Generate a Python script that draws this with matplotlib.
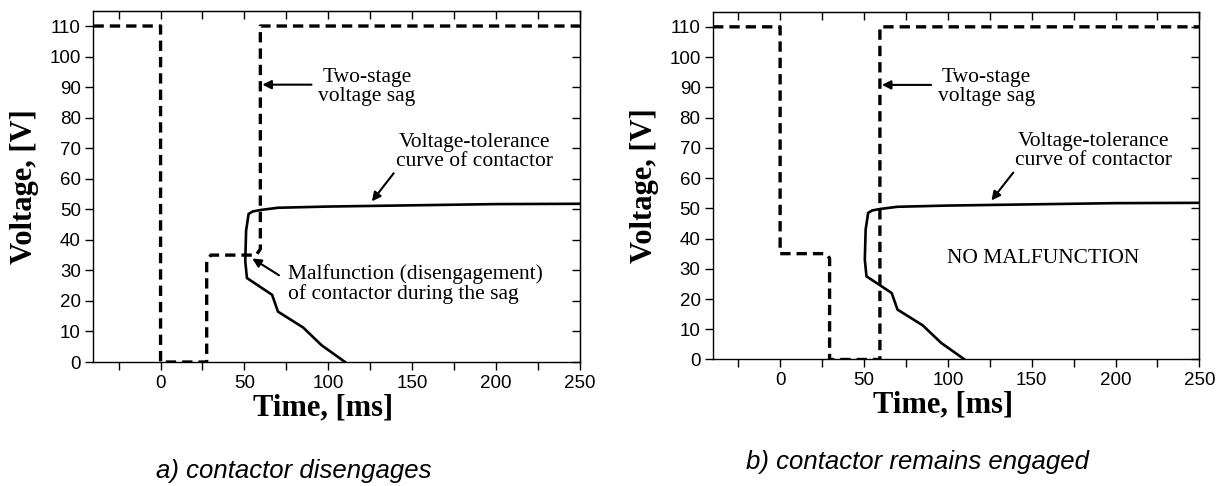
import numpy as np
import matplotlib
matplotlib.use("Agg")
import matplotlib.pyplot as plt
from matplotlib.ticker import MultipleLocator

# two-stage sag, case a (contactor drops out)
sag_a_t = [-40, 0, 0, 27.5, 27.5, 30, 57, 59.5, 59.5, 250]
sag_a_v = [110, 110, 0, 0, 33, 35, 35, 37, 110, 110]

# two-stage sag, case b (contactor stays in)
sag_b_t = [-40, 0, 0, 27, 29.5, 29.5, 59.5, 59.5, 250]
sag_b_v = [110, 110, 35, 35, 33.5, 0, 0, 110, 110]

# voltage-tolerance curve of the contactor
tol_t = [110, 96, 85, 70, 66.5, 51.5, 50.5, 51, 52.5, 55, 60, 70, 100, 150, 200, 250]
tol_v = [0, 5.5, 11.3, 16.5, 22, 27.5, 33, 43, 48.5, 49.3, 49.8, 50.5, 50.9, 51.3, 51.7, 51.8]

x_ticks = [0, 50, 100, 150, 200, 250]
y_ticks = list(range(0, 111, 10))

SERIF = "Liberation Serif"
SANS = "Liberation Sans"

fig = plt.figure(figsize=(12.22, 4.86), dpi=100)
ax_a = fig.add_axes([0.0765, 0.2551, 0.398, 0.7228])
ax_b = fig.add_axes([0.5835, 0.2603, 0.398, 0.7156])

arrow = dict(arrowstyle="-|>", lw=1.5, color="black", mutation_scale=13,
             shrinkA=0, shrinkB=0)
txt = dict(family=SERIF, fontsize=15.5, linespacing=1.0)


def setup(ax, xlab_x):
    ax.set_xlim(-40, 250)
    ax.set_ylim(0, 115)
    ax.set_xticks(x_ticks)
    ax.set_yticks(y_ticks)
    ax.xaxis.set_minor_locator(MultipleLocator(25))
    ax.tick_params(which="both", direction="out", length=5.5, width=1,
                   top=False, right=False, pad=3.5)
    for lab in ax.get_xticklabels() + ax.get_yticklabels():
        lab.set_family(SANS)
        lab.set_fontsize(13.5)
    for s in ax.spines.values():
        s.set_linewidth(1.0)
    # mirrored ticks pointing inwards on top and right
    top = ax.secondary_xaxis("top")
    top.set_xticks(x_ticks)
    top.xaxis.set_minor_locator(MultipleLocator(25))
    top.tick_params(which="both", direction="in", length=5.5, width=1, labeltop=False)
    right = ax.secondary_yaxis("right")
    right.set_yticks(y_ticks)
    right.tick_params(direction="in", length=5.5, width=1, labelright=False)

    ax.set_xlabel("Time, [ms]", family=SERIF, fontsize=22, fontweight="bold")
    ax.set_ylabel("Voltage, [V]", family=SERIF, fontsize=22, fontweight="bold")
    ax.xaxis.set_label_coords(xlab_x, -0.13)
    ax.xaxis.label.set_va("center")
    ax.yaxis.set_label_coords(-0.141, 0.5)
    ax.yaxis.label.set_va("center")

    ax.annotate("", xy=(60.7, 90.8), xytext=(90, 90.8), arrowprops=arrow)
    ax.text(123, 90, "Two-stage\nvoltage sag", ha="center", va="center", **txt)
    ax.annotate("", xy=(126, 52.6), xytext=(139, 61.8), arrowprops=arrow)
    ax.text(187, 68.8, "Voltage-tolerance\ncurve of contactor", ha="center", va="center", **txt)


# panel a
ax_a.plot(sag_a_t, sag_a_v, color="black", lw=2.4, dashes=(3.1, 1.8))
ax_a.plot(tol_t, tol_v, color="black", lw=1.9)
setup(ax_a, 0.472)
ax_a.annotate("", xy=(54.7, 33.9), xytext=(70.6, 28.4), arrowprops=arrow)
ax_a.text(76, 25.6, "Malfunction (disengagement)\nof contactor during the sag",
          ha="left", va="center", **txt)

# panel b
ax_b.plot(sag_b_t, sag_b_v, color="black", lw=2.4, dashes=(3.1, 1.8))
ax_b.plot(tol_t, tol_v, color="black", lw=1.9)
setup(ax_b, 0.472)
ax_b.text(157, 33.4, "NO MALFUNCTION", ha="center", va="center", family=SERIF, fontsize=15.5)

fig.text(0.2406, 0.031, "a) contactor disengages", ha="center", va="center",
         family=SANS, style="italic", fontsize=18.5)
fig.text(0.751, 0.05, "b) contactor remains engaged", ha="center", va="center",
         family=SANS, style="italic", fontsize=18.5)

fig.savefig("out.png", dpi=100)
